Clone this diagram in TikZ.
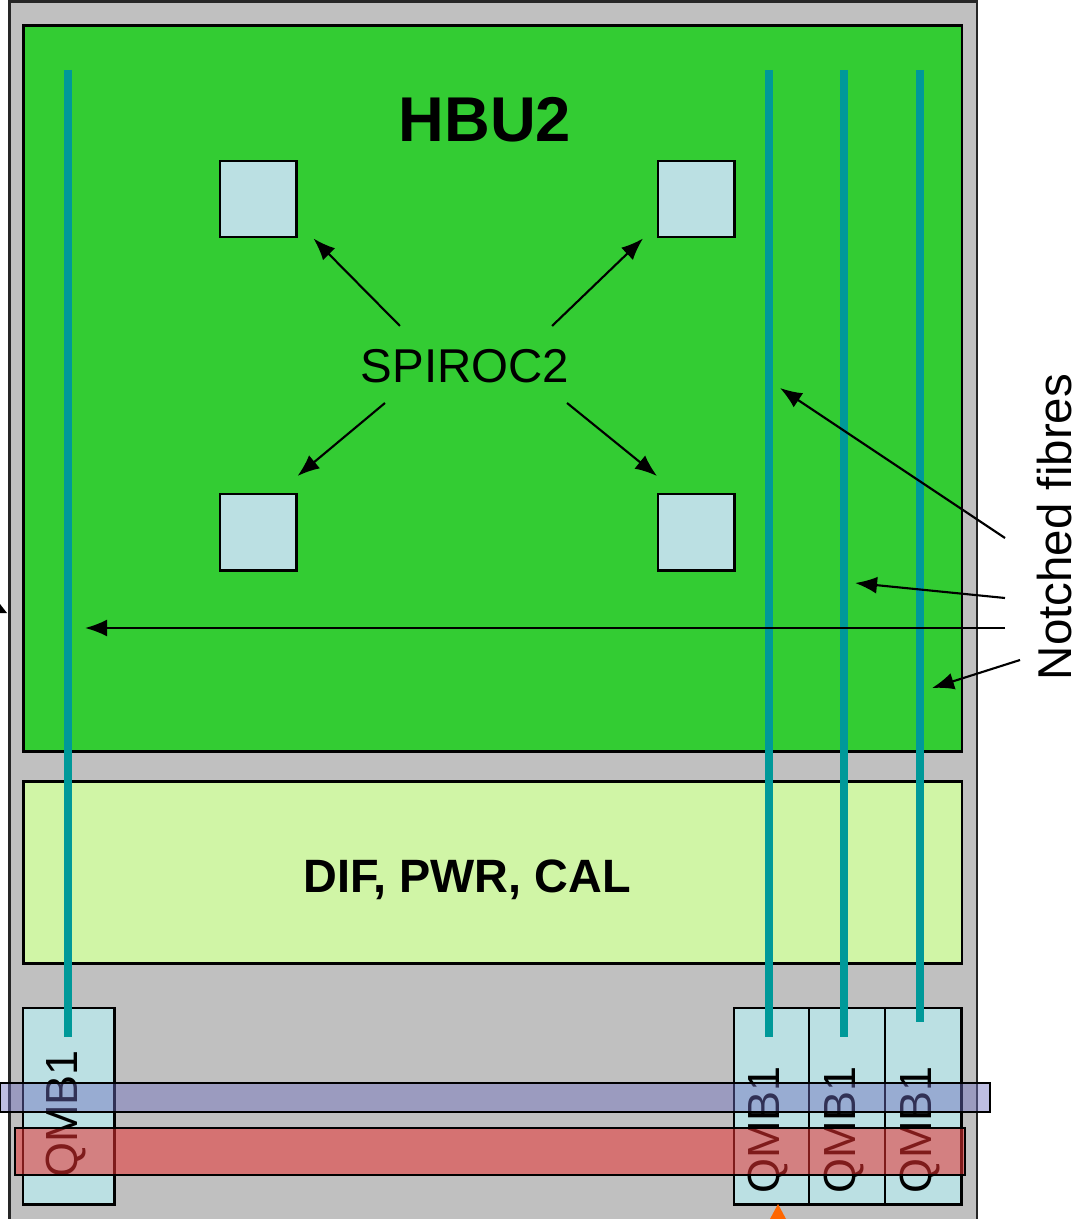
\documentclass[tikz,border=0pt]{standalone}
\usepackage{fontspec}
\setmainfont{Liberation Sans}
\usetikzlibrary{arrows.meta,positioning}
\definecolor{HbuFrame}{RGB}{192,192,192}
\definecolor{HbuGreen}{RGB}{51,204,51}
\definecolor{HbuPale}{RGB}{208,245,166}
\definecolor{HbuChip}{RGB}{187,224,227}
\definecolor{HbuFibre}{RGB}{0,153,153}
\definecolor{HbuBlue}{RGB}{110,110,190}
\definecolor{HbuRed}{RGB}{232,50,50}
\definecolor{HbuOrange}{RGB}{255,102,0}
\tikzset{
  hbu/board/.style={
    draw=black,
    line width=0.8pt,
    inner sep=0pt,
    anchor=north west
  },
  hbu/chip/.style={
    draw=black,
    line width=0.7pt,
    fill=HbuChip,
    minimum size=0.76cm,
    inner sep=0pt,
    anchor=north west
  },
  hbu/qmb/.style={
    draw=black,
    line width=0.7pt,
    fill=HbuChip,
    minimum height=1.96cm,
    inner sep=0pt,
    anchor=north west
  },
  hbu/fibre/.style={draw=HbuFibre, line width=0.08cm},
  hbu/arrow/.style={-{Latex[length=2.2mm,width=1.7mm]}, line width=0.6pt, draw=black},
  hbu/label/.style={font=\fontsize{13.5}{16}\selectfont, inner sep=0pt},
  hbu/qmbtext/.style={font=\fontsize{12.8}{15}\selectfont, inner sep=0pt, rotate=90},
  hbu/title/.style={font=\bfseries\fontsize{18}{21}\selectfont, inner sep=0pt},
  hbu/subtitle/.style={font=\bfseries\fontsize{13.3}{16}\selectfont, inner sep=0pt}
}
\begin{document}
\begin{tikzpicture}[x=0.01cm,y=-0.01cm]
  \useasboundingbox (0,0) rectangle (1082,1219);
  % boards
  \node[hbu/board,fill=HbuFrame,draw=black!85,minimum width=9.67cm,minimum height=12.18cm] (frame) at (8,0) {};
  \node[hbu/board,fill=HbuGreen,minimum width=9.38cm,minimum height=7.26cm] (hbu) at (22,24) {};
  \node[hbu/board,fill=HbuPale,minimum width=9.38cm,minimum height=1.82cm] (dif) at (22,780) {};
  \node[hbu/title] (hbutitle) at (485,120) {HBU2};
  \node[hbu/subtitle] (diftitle) at (467,880) {DIF, PWR, CAL};
  % chips
  \node[hbu/chip] (chipNW) at (219,160) {};
  \node[hbu/chip] (chipNE) at (657,160) {};
  \node[hbu/chip] (chipSW) at (219,493) {};
  \node[hbu/chip] (chipSE) at (657,493) {};
  \node[hbu/label] (spiroc) at (465,366) {SPIROC2};
  \draw[hbu/arrow] ([shift={(-0.65cm,0.4cm)}]spiroc.center) -- ([xshift=0.16cm]chipNW.south east);
  \draw[hbu/arrow] ([shift={(0.87cm,0.4cm)}]spiroc.center) -- ([xshift=-0.14cm]chipNE.south west);
  \draw[hbu/arrow] ([shift={(-0.8cm,-0.37cm)}]spiroc.center) -- ([yshift=0.17cm]chipSW.north east);
  \draw[hbu/arrow] ([shift={(1.02cm,-0.37cm)}]spiroc.center) -- ([yshift=0.17cm]chipSE.north west);
  % QMB boards
  \node[hbu/qmb,minimum width=0.91cm] (qmbL) at (22,1007) {};
  \node[hbu/qmb,minimum width=0.75cm] (qmbA) at (733,1007) {};
  \node[hbu/qmb,minimum width=0.76cm] (qmbB) at (808,1007) {};
  \node[hbu/qmb,minimum width=0.76cm] (qmbC) at (884,1007) {};
  \node[hbu/qmbtext] (qmbLtext) at (66,1114) {QMB1};
  \node[hbu/qmbtext] (qmbAtext) at (768,1130) {QMB1};
  \node[hbu/qmbtext] (qmbBtext) at (844,1130) {QMB1};
  \node[hbu/qmbtext] (qmbCtext) at (920,1130) {QMB1};
  % fibres
  \draw[hbu/fibre] (68,70) -- (68,1037);
  \draw[hbu/fibre] (769,70) -- (769,1037);
  \draw[hbu/fibre] (844,70) -- (844,1037);
  \draw[hbu/fibre] (920,70) -- (920,1022);
  % fibre label
  \node[hbu/label,rotate=90] (notched) at (1055,527) {Notched fibres};
  \coordinate (tipA) at (780,388);
  \coordinate (tipB) at (855,583);
  \coordinate (tipL) at (85,628);
  \coordinate (tipC) at (932,688);
  \draw[hbu/arrow] (1005,538) -- (tipA);
  \draw[hbu/arrow] (1005,598) -- (tipB);
  \draw[hbu/arrow] (1005,628) -- (tipL);
  \draw[hbu/arrow] (1020,660) -- (tipC);
  % bars
  \draw[line width=0.8pt,fill=HbuBlue,fill opacity=0.45] (0,1083) rectangle (990,1112);
  \draw[line width=0.6pt,fill=HbuRed,fill opacity=0.55] (15,1128) rectangle (965,1175);
  \fill[HbuOrange] (778,1204) -- (786,1219) -- (770,1219) -- cycle;
  \fill[black] (0,604) -- (7,613) -- (0,613) -- cycle;
\end{tikzpicture}
\end{document}
